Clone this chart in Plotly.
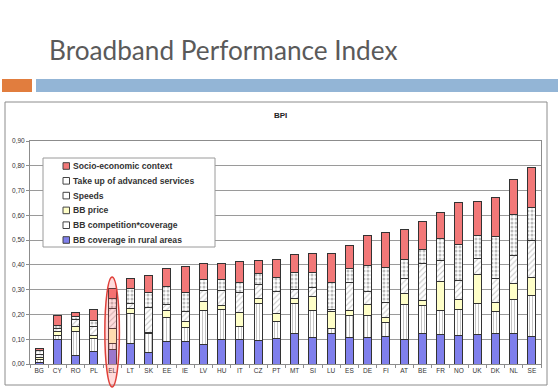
import plotly.graph_objects as go

countries = ["BG", "CY", "RO", "PL", "EL", "LT", "SK", "EE", "IE", "LV", "HU", "IT", "CZ", "PT",
             "MT", "SI", "LU", "ES", "DE", "FI", "AT", "BE", "FR", "NO", "UK", "DK", "NL", "SE"]
rural = [0.005, 0.100, 0.033, 0.050, 0.060, 0.084, 0.048, 0.090, 0.090, 0.080, 0.100, 0.100, 0.093, 0.104,
         0.124, 0.107, 0.124, 0.108, 0.107, 0.111, 0.100, 0.124, 0.120, 0.116, 0.119, 0.124, 0.124, 0.111]
competition = [0.015, 0.017, 0.100, 0.054, 0.024, 0.120, 0.076, 0.098, 0.058, 0.137, 0.120, 0.050, 0.151, 0.069,
               0.120, 0.110, 0.020, 0.089, 0.090, 0.056, 0.141, 0.113, 0.095, 0.104, 0.125, 0.087, 0.136, 0.166]
price = [0.008, 0.016, 0.017, 0.013, 0.060, 0.020, 0.005, 0.029, 0.022, 0.036, 0.017, 0.057, 0.020, 0.031,
         0.020, 0.056, 0.067, 0.020, 0.044, 0.021, 0.043, 0.020, 0.116, 0.040, 0.116, 0.036, 0.064, 0.074]
speeds = [0.012, 0.010, 0.030, 0.033, 0.080, 0.020, 0.098, 0.024, 0.040, 0.044, 0.060, 0.080, 0.056, 0.087,
          0.037, 0.035, 0.009, 0.110, 0.050, 0.059, 0.060, 0.147, 0.086, 0.075, 0.067, 0.097, 0.113, 0.149]
takeup = [0.015, 0.014, 0.013, 0.025, 0.040, 0.060, 0.063, 0.072, 0.077, 0.043, 0.043, 0.040, 0.047, 0.060,
          0.070, 0.060, 0.107, 0.060, 0.106, 0.144, 0.076, 0.060, 0.091, 0.149, 0.090, 0.169, 0.167, 0.132]
socio = [0.008, 0.040, 0.014, 0.045, 0.040, 0.040, 0.067, 0.071, 0.106, 0.064, 0.064, 0.086, 0.050, 0.070,
         0.070, 0.076, 0.117, 0.090, 0.120, 0.140, 0.123, 0.110, 0.102, 0.166, 0.140, 0.158, 0.141, 0.161]

series_names = ["BB coverage in rural areas", "BB competition*coverage", "BB price", "Speeds",
                "Take up of advanced services", "Socio-economic context"]
y_ticks = [0.0, 0.1, 0.2, 0.3, 0.4, 0.5, 0.6, 0.7, 0.8, 0.9]
highlight = "EL"

W, H = 558, 390
ML, MR, MT, MB = 30, 17, 141, 26
PW, PH = W - ML - MR, H - MT - MB


def px(x):
    return (x - ML) / PW


def py(y):
    return (H - MB - y) / PH


FONT = "Liberation Sans, Arial, sans-serif"
OUT = "#333333"

styles = [
    dict(color="#7F7FEC"),
    dict(color="white", pattern=dict(shape="|", fgcolor="#666666", size=3, solidity=0.25)),
    dict(color="#FFFFC8"),
    dict(color="white", pattern=dict(shape="/", fgcolor="#8a8a8a", size=4, solidity=0.25)),
    dict(color="white", pattern=dict(shape=".", fgcolor="#777777", size=4, solidity=0.45)),
    dict(color="#F27878"),
]
values = [rural, competition, price, speeds, takeup, socio]

fig = go.Figure()
for name, vals, st in zip(series_names, values, styles):
    marker = dict(line=dict(color=OUT, width=1), **st)
    fig.add_trace(go.Bar(x=countries, y=vals, name=name, marker=marker, showlegend=False))

shapes = []
annotations = []

# slide decorations
shapes.append(dict(type="rect", xref="paper", yref="paper", x0=px(2), x1=px(32), y0=py(79), y1=py(92),
                   fillcolor="#E17D3E", line=dict(width=0), layer="above"))
shapes.append(dict(type="rect", xref="paper", yref="paper", x0=px(36), x1=px(558), y0=py(79), y1=py(92),
                   fillcolor="#93B5D6", line=dict(width=0), layer="above"))
annotations.append(dict(text="Broadband Performance Index", xref="paper", yref="paper", x=px(47), y=py(50),
                        xanchor="left", yanchor="middle", showarrow=False,
                        font=dict(family="Lato, Open Sans, sans-serif", size=26.2, color="#5a5a5a")))

# chart border
shapes.append(dict(type="rect", xref="paper", yref="paper", x0=px(5), x1=px(547), y0=py(102), y1=py(385),
                   line=dict(color="#8c8c8c", width=1), fillcolor="rgba(0,0,0,0)", layer="below"))
annotations.append(dict(text="<b>BPI</b>", xref="paper", yref="paper", x=px(280), y=py(115),
                        xanchor="center", yanchor="middle", showarrow=False,
                        font=dict(family=FONT, size=8, color="#222222")))

# legend box (manual, compact spacing like the original)
shapes.append(dict(type="rect", xref="paper", yref="paper", x0=px(43), x1=px(215), y0=py(158), y1=py(247),
                   fillcolor="white", line=dict(color="#9a9a9a", width=1), layer="above"))
legend_colors = ["#F27878", "white", "white", "#FFFFC8", "white", "#7F7FEC"]
for i, (name, col) in enumerate(zip(series_names[::-1], legend_colors)):
    yc = 166 + i * 14.8
    shapes.append(dict(type="rect", xref="paper", yref="paper", x0=px(63), x1=px(69.5), y0=py(yc - 3.3),
                       y1=py(yc + 3.3), fillcolor=col, line=dict(color="#444444", width=1), layer="above"))
    annotations.append(dict(text="<b>" + name + "</b>", xref="paper", yref="paper", x=px(71), y=py(yc),
                            xanchor="left", yanchor="middle", showarrow=False,
                            font=dict(family=FONT, size=8.6, color="#333333")))

# highlight ellipse around EL
idx = countries.index(highlight)
n = len(countries)
cx = (idx + 0.5) / n
half = 0.4 / n
shapes.append(dict(type="circle", xref="x domain", yref="y domain", x0=cx - half, x1=cx + half,
                   y0=-23 / PH, y1=(364 - 277) / PH,
                   fillcolor="rgba(255,90,90,0.22)", line=dict(color="#E0403A", width=1.5), layer="above"))

fig.update_layout(
    width=W, height=H,
    margin=dict(l=ML, r=MR, t=MT, b=MB, autoexpand=False),
    paper_bgcolor="white", plot_bgcolor="white",
    barmode="stack", bargap=0.55,
    separators=",.",
    font=dict(family=FONT, size=7, color="#333333"),
    shapes=shapes, annotations=annotations,
    showlegend=False,
)
fig.update_yaxes(range=[0, 0.9], tickvals=y_ticks, tickformat=".2f", showgrid=True, gridcolor="#9a9a9a",
                 gridwidth=1, showline=True, linecolor="#8c8c8c", mirror=True, ticks="outside", ticklen=3,
                 tickcolor="#8c8c8c", tickfont=dict(size=6.5, color="#333333"), zeroline=False,
                 automargin=False)
fig.update_xaxes(showline=True, linecolor="#8c8c8c", mirror=True, ticks="outside", ticklen=3,
                 tickcolor="#8c8c8c", tickson="boundaries", tickfont=dict(size=6.5, color="#333333"),
                 tickangle=0, automargin=False)

fig.write_html("out.html", config={"displayModeBar": False},
               post_script="document.body.style.margin='0';document.body.style.padding='0';")
